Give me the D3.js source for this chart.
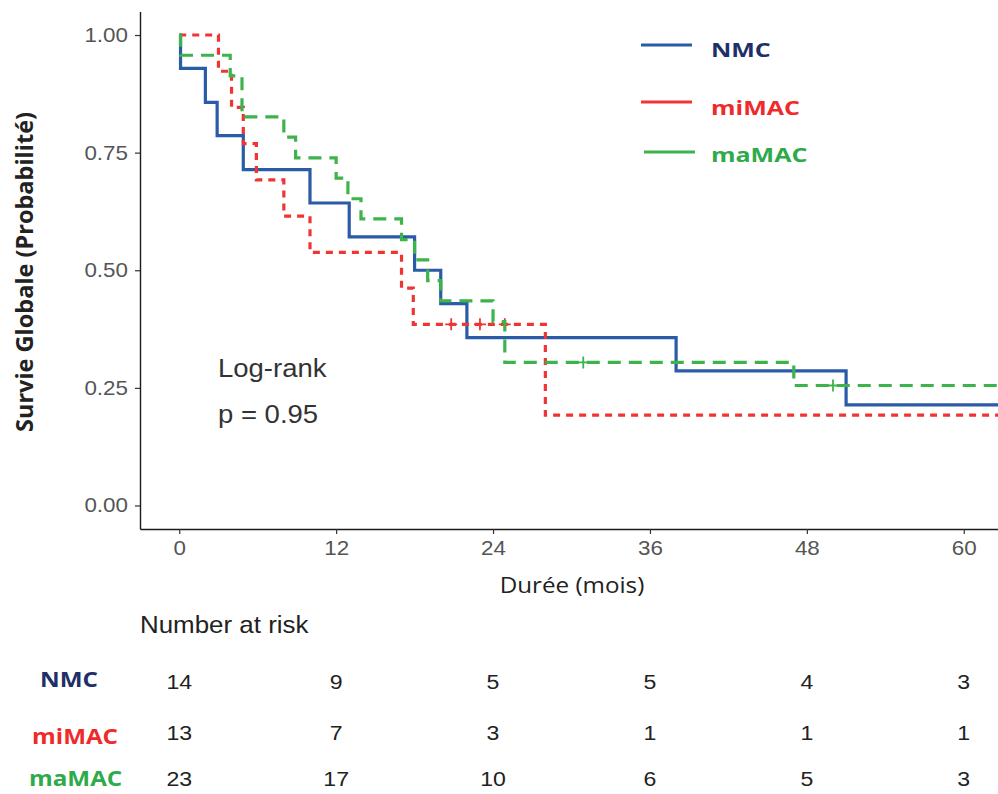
<!DOCTYPE html>
<html>
<head>
<meta charset="utf-8">
<script src="https://cdn.jsdelivr.net/npm/d3@7"></script>
<style>
  body { margin: 0; background: #fff; }
  svg { display: block; }
</style>
</head>
<body>
<div id="chart"></div>
<script>
// values
var groups = ['NMC', 'miMAC', 'maMAC']

var nmcTime  = [0, 0.1, 2, 2.9, 4.9, 10, 13, 18, 20, 22, 38, 51, 63]
var nmcSurv  = [1, 0.929, 0.857, 0.786, 0.714, 0.643, 0.571, 0.5, 0.429, 0.357, 0.286, 0.214, 0.214]

var miTime   = [0, 3, 4, 4.9, 5.9, 8, 10, 17, 17.9, 28, 63]
var miSurv   = [1, 0.923, 0.846, 0.769, 0.692, 0.615, 0.538, 0.462, 0.385, 0.192, 0.192]
var miCensT  = [20.8, 23, 24.9]
var miCensS  = [0.385, 0.385, 0.385]

var maTime   = [0, 0.1, 3.9, 4.8, 8, 8.9, 12, 12.9, 13.9, 17, 18, 19, 20, 24, 24.9, 47, 63]
var maSurv   = [1, 0.957, 0.913, 0.826, 0.783, 0.739, 0.696, 0.652, 0.609, 0.565, 0.522, 0.478, 0.435, 0.391, 0.304, 0.255, 0.255]
var maCensT  = [30.9, 50]
var maCensS  = [0.304, 0.255]

var xTicks   = [0, 12, 24, 36, 48, 60]
var yTicks   = [0, 0.25, 0.5, 0.75, 1]

var riskNMC  = [14, 9, 5, 5, 4, 3]
var riskMi   = [13, 7, 3, 1, 1, 1]
var riskMa   = [23, 17, 10, 6, 5, 3]

var testLines = ['Log-rank', 'p = 0.95']

var w = 998
  , h = 794
  , lineCol = { NMC: '#2a5ba6', miMAC: '#f03434', maMAC: '#3db34b' }
  , textCol = { NMC: '#1f2f68', miMAC: '#ee2a2a', maMAC: '#2eaa4a' }
  , dash = { NMC: null, miMAC: '7,6', maMAC: '13,8' }

var series = [
  { name: 'NMC',   t: nmcTime, s: nmcSurv, ct: [], cs: [], risk: riskNMC },
  { name: 'miMAC', t: miTime,  s: miSurv,  ct: miCensT, cs: miCensS, risk: riskMi },
  { name: 'maMAC', t: maTime,  s: maSurv,  ct: maCensT, cs: maCensS, risk: riskMa }
]

var x = d3.scaleLinear().domain([-3, 63]).range([140, 1003])
var y = d3.scaleLinear().domain([-0.05, 1.05]).range([529, 11.5])

var svg = d3.select('#chart').append('svg').attr('width', w).attr('height', h)

// text that looks a bit wider than the installed fonts
function put (g, str, px, py, sx) {
  return g.append('text').text(str)
    .attr('transform', 'translate(' + px + ',' + py + ') scale(' + sx + ',1)')
}

svg.append('clipPath').attr('id', 'plot')
  .append('rect').attr('x', 140).attr('y', 0).attr('width', 858).attr('height', 529)

var line = d3.line()
  .x(function (d) { return x(d[0]) })
  .y(function (d) { return y(d[1]) })
  .curve(d3.curveStepAfter)

var curves = svg.append('g').attr('clip-path', 'url(#plot)')

series.forEach(function (sr) {
  var pts = sr.t.map(function (t, i) { return [t, sr.s[i]] })
  curves.append('path')
    .datum(pts)
    .attr('d', line)
    .attr('fill', 'none')
    .attr('stroke', lineCol[sr.name])
    .attr('stroke-width', 3.2)
    .attr('stroke-dasharray', dash[sr.name])

  curves.selectAll(null).data(sr.ct.map(function (t, i) { return [t, sr.cs[i]] }))
    .enter().append('path')
    .attr('d', function (d) {
      var cx = x(d[0]), cy = y(d[1])
      return 'M' + (cx - 6) + ',' + cy + 'H' + (cx + 6) + 'M' + cx + ',' + (cy - 6) + 'V' + (cy + 6)
    })
    .attr('stroke', lineCol[sr.name])
    .attr('stroke-width', 1.8)
})

// axes
var xAxis = svg.append('g').attr('transform', 'translate(0,529)')
  .call(d3.axisBottom(x).tickValues(xTicks).tickSize(5).tickSizeOuter(0).tickPadding(7))
var yAxis = svg.append('g').attr('transform', 'translate(140,0)')
  .call(d3.axisLeft(y).tickValues(yTicks).tickFormat(d3.format('.2f')).tickSize(5).tickSizeOuter(0))

;[xAxis, yAxis].forEach(function (a) {
  a.select('.domain').attr('stroke', '#1a1a1a').attr('stroke-width', 1.4)
  a.selectAll('.tick line').attr('stroke', '#333').attr('stroke-width', 1.2)
  a.selectAll('.tick text')
    .attr('fill', '#555')
    .style('font', '20px "Liberation Sans", Arial, sans-serif')
    .attr('transform', 'scale(1.12,1)')
})
yAxis.selectAll('.tick text').attr('x', -12 / 1.12)

// axis titles
svg.append('text')
  .attr('transform', 'translate(33,272) rotate(-90)')
  .attr('text-anchor', 'middle')
  .style('font', '700 23.5px "Open Sans", sans-serif')
  .attr('fill', '#222')
  .text('Survie Globale (Probabilité)')

put(svg, 'Durée (mois)', 572, 593, 1.1)
  .attr('text-anchor', 'middle')
  .style('font', '22px "Open Sans", sans-serif')
  .attr('fill', '#222')

// log-rank annotation
testLines.forEach(function (s, i) {
  put(svg, s, 218, [377, 423][i], 1.1)
    .style('font', '25px "Liberation Sans", Arial, sans-serif')
    .attr('fill', '#333')
})

// legend
var legY = [45, 102, 152]
  , legBase = [57, 115, 162]
  , legX = [641, 641, 644]
series.forEach(function (sr, i) {
  svg.append('line')
    .attr('x1', legX[i]).attr('x2', legX[i] + 51)
    .attr('y1', legY[i]).attr('y2', legY[i])
    .attr('stroke', lineCol[sr.name]).attr('stroke-width', 3)
  put(svg, sr.name, 711, legBase[i], 1.25)
    .style('font', '700 20px "Open Sans", sans-serif')
    .attr('fill', textCol[sr.name])
})

// risk table
put(svg, 'Number at risk', 140, 633, 1.08)
  .style('font', '24px "Liberation Sans", Arial, sans-serif')
  .attr('fill', '#222')

var rowBase = [689, 740, 786]
  , labBase = [687, 744, 786]
  , labX = [40, 32, 29]
series.forEach(function (sr, i) {
  put(svg, sr.name, labX[i], labBase[i], 1.1)
    .style('font', '700 22px "Open Sans", sans-serif')
    .attr('fill', textCol[sr.name])

  sr.risk.forEach(function (n, j) {
    put(svg, n, x(xTicks[j]), rowBase[i], 1.1)
      .attr('text-anchor', 'middle')
      .style('font', '21px "Liberation Sans", Arial, sans-serif')
      .attr('fill', '#222')
  })
})
</script>
</body>
</html>
